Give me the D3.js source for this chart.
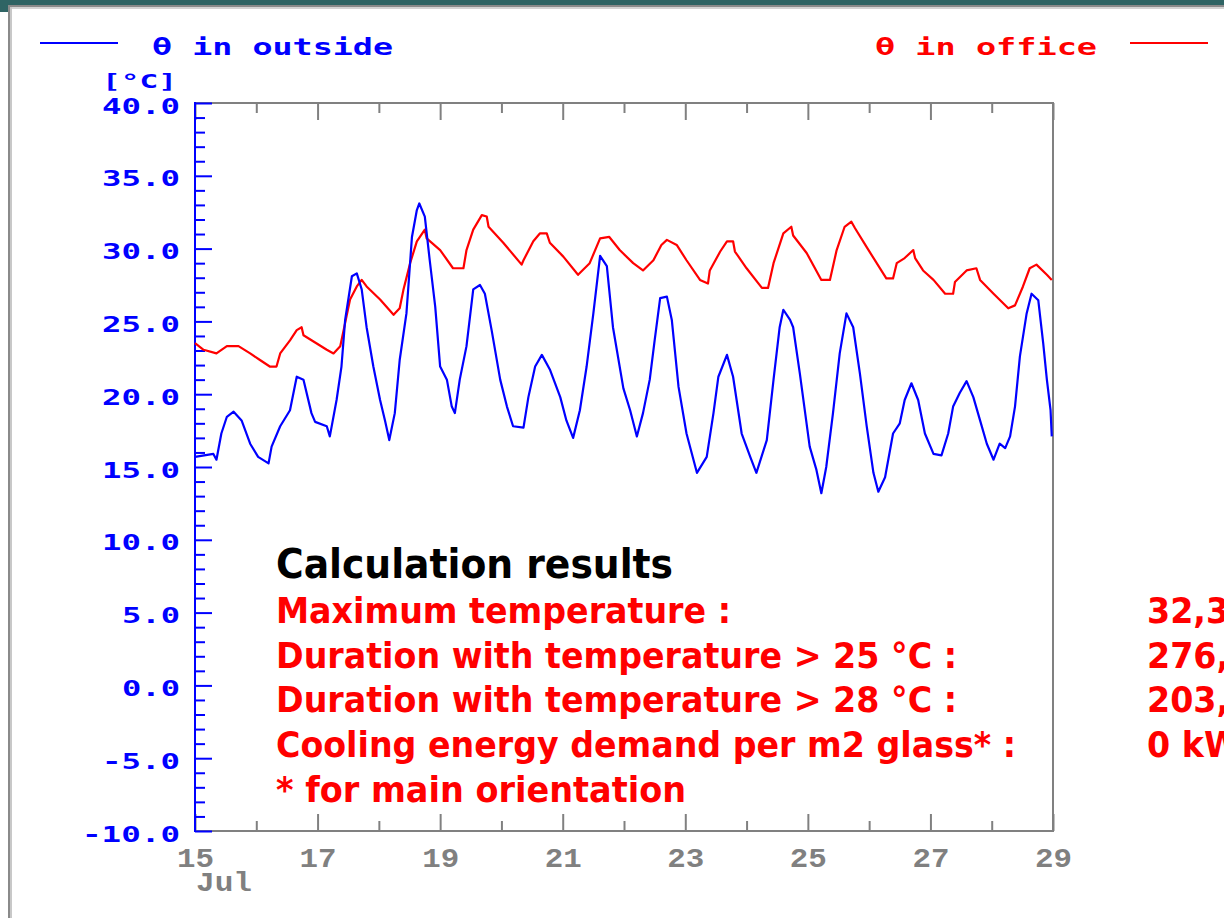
<!DOCTYPE html>
<html>
<head>
<meta charset="utf-8">
<script src="https://cdn.jsdelivr.net/npm/d3@7"></script>
<style>
  body { margin: 0; background: #fff; }
  svg { display: block; }
  .pix { font-family: "DejaVu Sans Mono", monospace; font-weight: bold; }
  .xlab { font-family: "Liberation Mono", "Courier New", monospace; font-weight: bold; }
  .res { font-family: "DejaVu Sans", Verdana, sans-serif; font-weight: bold; }
</style>
</head>
<body>
<div id="chart"></div>
<script>
// temperature curves, [day of July, degC]
var outsideSeries = [
  [15.0,15.7],[15.3,15.9],[15.35,15.5],[15.43,17.3],[15.52,18.45],[15.63,18.8],[15.76,18.2],[15.9,16.6],
  [16.03,15.7],[16.2,15.25],[16.25,16.4],[16.39,17.8],[16.55,18.9],[16.66,21.2],[16.77,21.0],[16.9,18.7],
  [16.96,18.1],[17.15,17.8],[17.2,17.1],[17.31,19.6],[17.39,21.9],[17.45,25.1],[17.56,28.1],[17.64,28.3],
  [17.72,27.2],[17.8,24.6],[17.91,21.9],[18.02,19.6],[18.1,18.2],[18.17,16.85],[18.26,18.7],[18.34,22.35],
  [18.45,25.55],[18.54,30.8],[18.62,32.65],[18.66,33.1],[18.75,32.2],[18.83,29.2],[18.92,26.0],[19.0,21.9],
  [19.11,21.0],[19.19,19.15],[19.24,18.7],[19.32,21.0],[19.43,23.3],[19.54,27.2],[19.65,27.5],[19.73,26.9],
  [19.84,24.4],[19.98,21.0],[20.09,19.15],[20.19,17.8],[20.36,17.7],[20.44,19.8],[20.55,21.9],[20.66,22.7],
  [20.79,21.7],[20.96,19.8],[21.06,18.2],[21.17,17.0],[21.28,18.9],[21.39,21.9],[21.5,25.55],[21.61,29.5],
  [21.72,28.8],[21.82,24.6],[21.99,20.4],[22.1,18.9],[22.21,17.1],[22.31,18.7],[22.42,21.0],[22.5,23.7],
  [22.59,26.6],[22.7,26.7],[22.78,25.1],[22.89,20.5],[23.02,17.3],[23.19,14.6],[23.35,15.7],[23.46,18.7],
  [23.54,21.2],[23.68,22.7],[23.78,21.2],[23.92,17.3],[24.06,15.7],[24.16,14.6],[24.33,16.85],[24.44,21.0],
  [24.54,24.6],[24.6,25.8],[24.71,25.1],[24.76,24.6],[24.87,21.4],[25.03,16.4],[25.14,14.8],[25.22,13.2],
  [25.3,15.0],[25.41,18.7],[25.52,22.8],[25.63,25.55],[25.74,24.6],[25.85,21.4],[25.96,17.8],[26.07,14.6],
  [26.15,13.3],[26.26,14.3],[26.39,17.3],[26.5,18.0],[26.58,19.6],[26.69,20.75],[26.8,19.6],[26.91,17.3],
  [27.05,15.9],[27.18,15.8],[27.29,17.3],[27.37,19.15],[27.48,20.1],[27.59,20.9],[27.7,19.8],[27.81,18.2],
  [27.92,16.6],[28.03,15.5],[28.13,16.6],[28.22,16.3],[28.3,17.1],[28.38,19.15],[28.46,22.6],[28.57,25.55],
  [28.65,26.9],[28.76,26.45],[28.84,23.5],[28.9,21.0],[28.96,18.9],[28.98,17.1]
]

var officeSeries = [
  [15.0,23.5],[15.14,23.05],[15.35,22.8],[15.52,23.3],[15.71,23.3],[15.9,22.8],[16.06,22.35],[16.22,21.9],
  [16.33,21.9],[16.39,22.8],[16.55,23.7],[16.66,24.4],[16.74,24.6],[16.77,24.05],[16.98,23.5],[17.15,23.05],
  [17.26,22.8],[17.37,23.3],[17.45,24.9],[17.53,26.5],[17.64,27.4],[17.72,27.85],[17.8,27.4],[18.02,26.5],
  [18.24,25.45],[18.34,25.9],[18.4,27.15],[18.51,29.0],[18.62,30.5],[18.75,31.3],[18.78,30.7],[19.0,29.9],
  [19.21,28.65],[19.38,28.65],[19.43,29.9],[19.54,31.3],[19.68,32.3],[19.76,32.2],[19.79,31.5],[20.03,30.4],
  [20.33,28.9],[20.36,29.2],[20.52,30.5],[20.63,31.05],[20.74,31.05],[20.79,30.4],[21.01,29.45],[21.25,28.2],
  [21.44,29.0],[21.61,30.7],[21.76,30.8],[21.93,29.9],[22.15,29.0],[22.31,28.5],[22.48,29.2],[22.61,30.25],
  [22.7,30.6],[22.86,30.25],[23.02,29.2],[23.24,27.85],[23.37,27.6],[23.4,28.5],[23.57,29.8],[23.68,30.5],
  [23.78,30.5],[23.81,29.8],[24.0,28.65],[24.25,27.3],[24.35,27.3],[24.44,29.0],[24.6,31.05],[24.73,31.5],
  [24.76,30.9],[24.98,29.7],[25.22,27.85],[25.36,27.85],[25.47,29.9],[25.6,31.5],[25.71,31.85],[25.77,31.4],
  [25.96,30.1],[26.28,27.95],[26.39,27.95],[26.45,29.0],[26.58,29.35],[26.72,29.9],[26.75,29.35],[26.88,28.5],
  [27.05,27.85],[27.24,26.9],[27.37,26.9],[27.4,27.7],[27.59,28.5],[27.75,28.65],[27.81,27.85],[28.03,26.9],
  [28.27,25.9],[28.38,26.1],[28.51,27.4],[28.62,28.65],[28.73,28.9],[28.9,28.2],[28.98,27.85]
]

var yMajorTicks = [-10, -5, 0, 5, 10, 15, 20, 25, 30, 35, 40]
var xMajorTicks = [15, 17, 19, 21, 23, 25, 27, 29]
var xMinorTicks = [16, 18, 20, 22, 24, 26, 28]
var monthLabel = 'Jul'
var unitLabel = '[°C]'
var legendNames = ['θ in outside', 'θ in office']

var resultsTitle = 'Calculation results'
var resultLabels = ['Maximum temperature :', 'Duration with temperature > 25 °C :',
  'Duration with temperature > 28 °C :', 'Cooling energy demand per m2 glass* :', '* for main orientation']
var resultValues = ['32,3', '276,', '203,', '0 kW']

var size = ({width: 1224, height: 918})
var plot = ({left: 195, right: 1053, top: 103, bottom: 831})
var blue = '#0000ff', red = '#ff0000', gray = '#808080'

var x = d3.scaleLinear().domain([15, 29]).range([plot.left, plot.right])
var y = d3.scaleLinear().domain([-10, 40]).range([plot.bottom, plot.top])

const svg = d3.select('#chart')
    .append('svg')
    .attr('width', size.width)
    .attr('height', size.height)

svg.append('rect').attr('width', size.width).attr('height', size.height).attr('fill', '#fff')

// window frame
svg.append('rect').attr('x', 0).attr('y', 0).attr('width', size.width).attr('height', 5).attr('fill', '#2f6464')
svg.append('rect').attr('x', 0).attr('y', 0).attr('width', 9).attr('height', 12).attr('fill', '#2f6464')
svg.append('rect').attr('x', 9).attr('y', 5).attr('width', size.width - 9).attr('height', 2).attr('fill', '#8a8a8a')
svg.append('rect').attr('x', 9).attr('y', 7).attr('width', size.width - 9).attr('height', 2).attr('fill', '#d4d4d4')
svg.append('rect').attr('x', 8).attr('y', 5).attr('width', 2).attr('height', size.height).attr('fill', '#8a8a8a')
svg.append('rect').attr('x', 10).attr('y', 7).attr('width', 2).attr('height', size.height).attr('fill', '#c8c8c8')

// gray plot frame
svg.append('path')
    .attr('d', `M${plot.left},${plot.top}H${plot.right}V${plot.bottom}H${plot.left}`)
    .attr('fill', 'none').attr('stroke', gray).attr('stroke-width', 2)

function styleTicks(g, color) {
    g.select('.domain').remove()
    g.selectAll('.tick line').attr('stroke', color).attr('stroke-width', 2)
}

// x ticks, top and bottom, pointing inward
svg.append('g')
    .attr('transform', `translate(0,${plot.top})`)
    .call(d3.axisTop(x).tickValues(xMajorTicks).tickSize(-17).tickFormat(''))
    .call(g => styleTicks(g, gray))
svg.append('g')
    .attr('transform', `translate(0,${plot.top})`)
    .call(d3.axisTop(x).tickValues(xMinorTicks).tickSize(-10).tickFormat(''))
    .call(g => styleTicks(g, gray))
svg.append('g')
    .attr('transform', `translate(0,${plot.bottom})`)
    .call(d3.axisBottom(x).tickValues(xMinorTicks).tickSize(-10).tickFormat(''))
    .call(g => styleTicks(g, gray))

var xAxis = svg.append('g')
    .attr('transform', `translate(0,${plot.bottom})`)
    .call(d3.axisBottom(x).tickValues(xMajorTicks).tickSize(-17).tickPadding(0).tickFormat(d3.format('d')))
    .call(g => styleTicks(g, gray))
xAxis.selectAll('.tick text')
    .attr('class', 'xlab')
    .attr('fill', gray)
    .attr('font-size', 28)
    .attr('dy', null)
    .attr('y', 36)
    .attr('textLength', 37)
    .attr('lengthAdjust', 'spacingAndGlyphs')

svg.append('text')
    .attr('class', 'xlab')
    .attr('x', 196).attr('y', 891)
    .attr('fill', gray).attr('font-size', 28)
    .attr('textLength', 56).attr('lengthAdjust', 'spacingAndGlyphs')
    .text(monthLabel)

// y axis, blue, ticks pointing right
var minorY = d3.range(-10, 41, 1).filter(v => v % 5 !== 0)
svg.append('g')
    .attr('transform', `translate(${plot.left},0)`)
    .call(d3.axisLeft(y).tickValues(minorY).tickSize(-10).tickFormat(''))
    .call(g => styleTicks(g, blue))

var yAxis = svg.append('g')
    .attr('transform', `translate(${plot.left},0)`)
    .call(d3.axisLeft(y).tickValues(yMajorTicks).tickSize(-17).tickPadding(15)
        .tickFormat(d => d3.format('.1f')(d).replace('−', '-')))
    .call(g => styleTicks(g, blue))
yAxis.selectAll('.tick text')
    .attr('class', 'pix')
    .attr('fill', blue)
    .attr('font-size', 22)
    .attr('dy', null)
    .attr('y', 10)
    .attr('textLength', function () { return this.textContent.length * 20 - 2 })
    .attr('lengthAdjust', 'spacingAndGlyphs')

svg.append('line')
    .attr('x1', plot.left).attr('x2', plot.left)
    .attr('y1', plot.top - 1).attr('y2', plot.bottom + 1)
    .attr('stroke', blue).attr('stroke-width', 2)

svg.append('text')
    .attr('class', 'pix')
    .attr('x', 102).attr('y', 88)
    .attr('fill', blue).attr('font-size', 20)
    .attr('textLength', 75).attr('lengthAdjust', 'spacingAndGlyphs')
    .text(unitLabel)

// legend
svg.append('line').attr('x1', 40).attr('x2', 118).attr('y1', 43).attr('y2', 43)
    .attr('stroke', blue).attr('stroke-width', 2)
svg.append('text')
    .attr('class', 'pix').attr('x', 152).attr('y', 55)
    .attr('fill', blue).attr('font-size', 23)
    .attr('textLength', 241).attr('lengthAdjust', 'spacingAndGlyphs')
    .text(legendNames[0])
svg.append('line').attr('x1', 1130).attr('x2', 1208).attr('y1', 43).attr('y2', 43)
    .attr('stroke', red).attr('stroke-width', 2)
svg.append('text')
    .attr('class', 'pix').attr('x', 875).attr('y', 55)
    .attr('fill', red).attr('font-size', 23)
    .attr('textLength', 222).attr('lengthAdjust', 'spacingAndGlyphs')
    .text(legendNames[1])

// curves
var line = d3.line()
    .x(d => x(d[0]))
    .y(d => y(d[1]))

svg.append('path')
    .datum(officeSeries)
    .attr('fill', 'none')
    .attr('stroke', red)
    .attr('stroke-width', 2.2)
    .attr('stroke-linejoin', 'round')
    .attr('d', line)

svg.append('path')
    .datum(outsideSeries)
    .attr('fill', 'none')
    .attr('stroke', blue)
    .attr('stroke-width', 2.2)
    .attr('stroke-linejoin', 'round')
    .attr('d', line)

// results block
svg.append('text')
    .attr('class', 'res')
    .attr('x', 276).attr('y', 578)
    .attr('fill', '#000').attr('font-size', 40)
    .attr('textLength', 397).attr('lengthAdjust', 'spacingAndGlyphs')
    .text(resultsTitle)

var labelWidths = [455, 681, 681, 740, 410]
var squeeze = 1
resultLabels.forEach(function (t, i) {
    var el = svg.append('text')
        .attr('class', 'res')
        .attr('x', 276).attr('y', 623 + i * 44.7)
        .attr('fill', red).attr('font-size', 36)
        .text(t)
    if (i === 0) squeeze = labelWidths[0] / el.node().getComputedTextLength()
    el.attr('textLength', labelWidths[i]).attr('lengthAdjust', 'spacingAndGlyphs')
})

// values run past the right edge, as in the picture
resultValues.forEach(function (t, i) {
    var el = svg.append('text')
        .attr('class', 'res')
        .attr('x', 1147).attr('y', 623 + i * 44.7)
        .attr('fill', red).attr('font-size', 36)
        .text(t)
    el.attr('textLength', el.node().getComputedTextLength() * squeeze)
        .attr('lengthAdjust', 'spacingAndGlyphs')
})
</script>
</body>
</html>
